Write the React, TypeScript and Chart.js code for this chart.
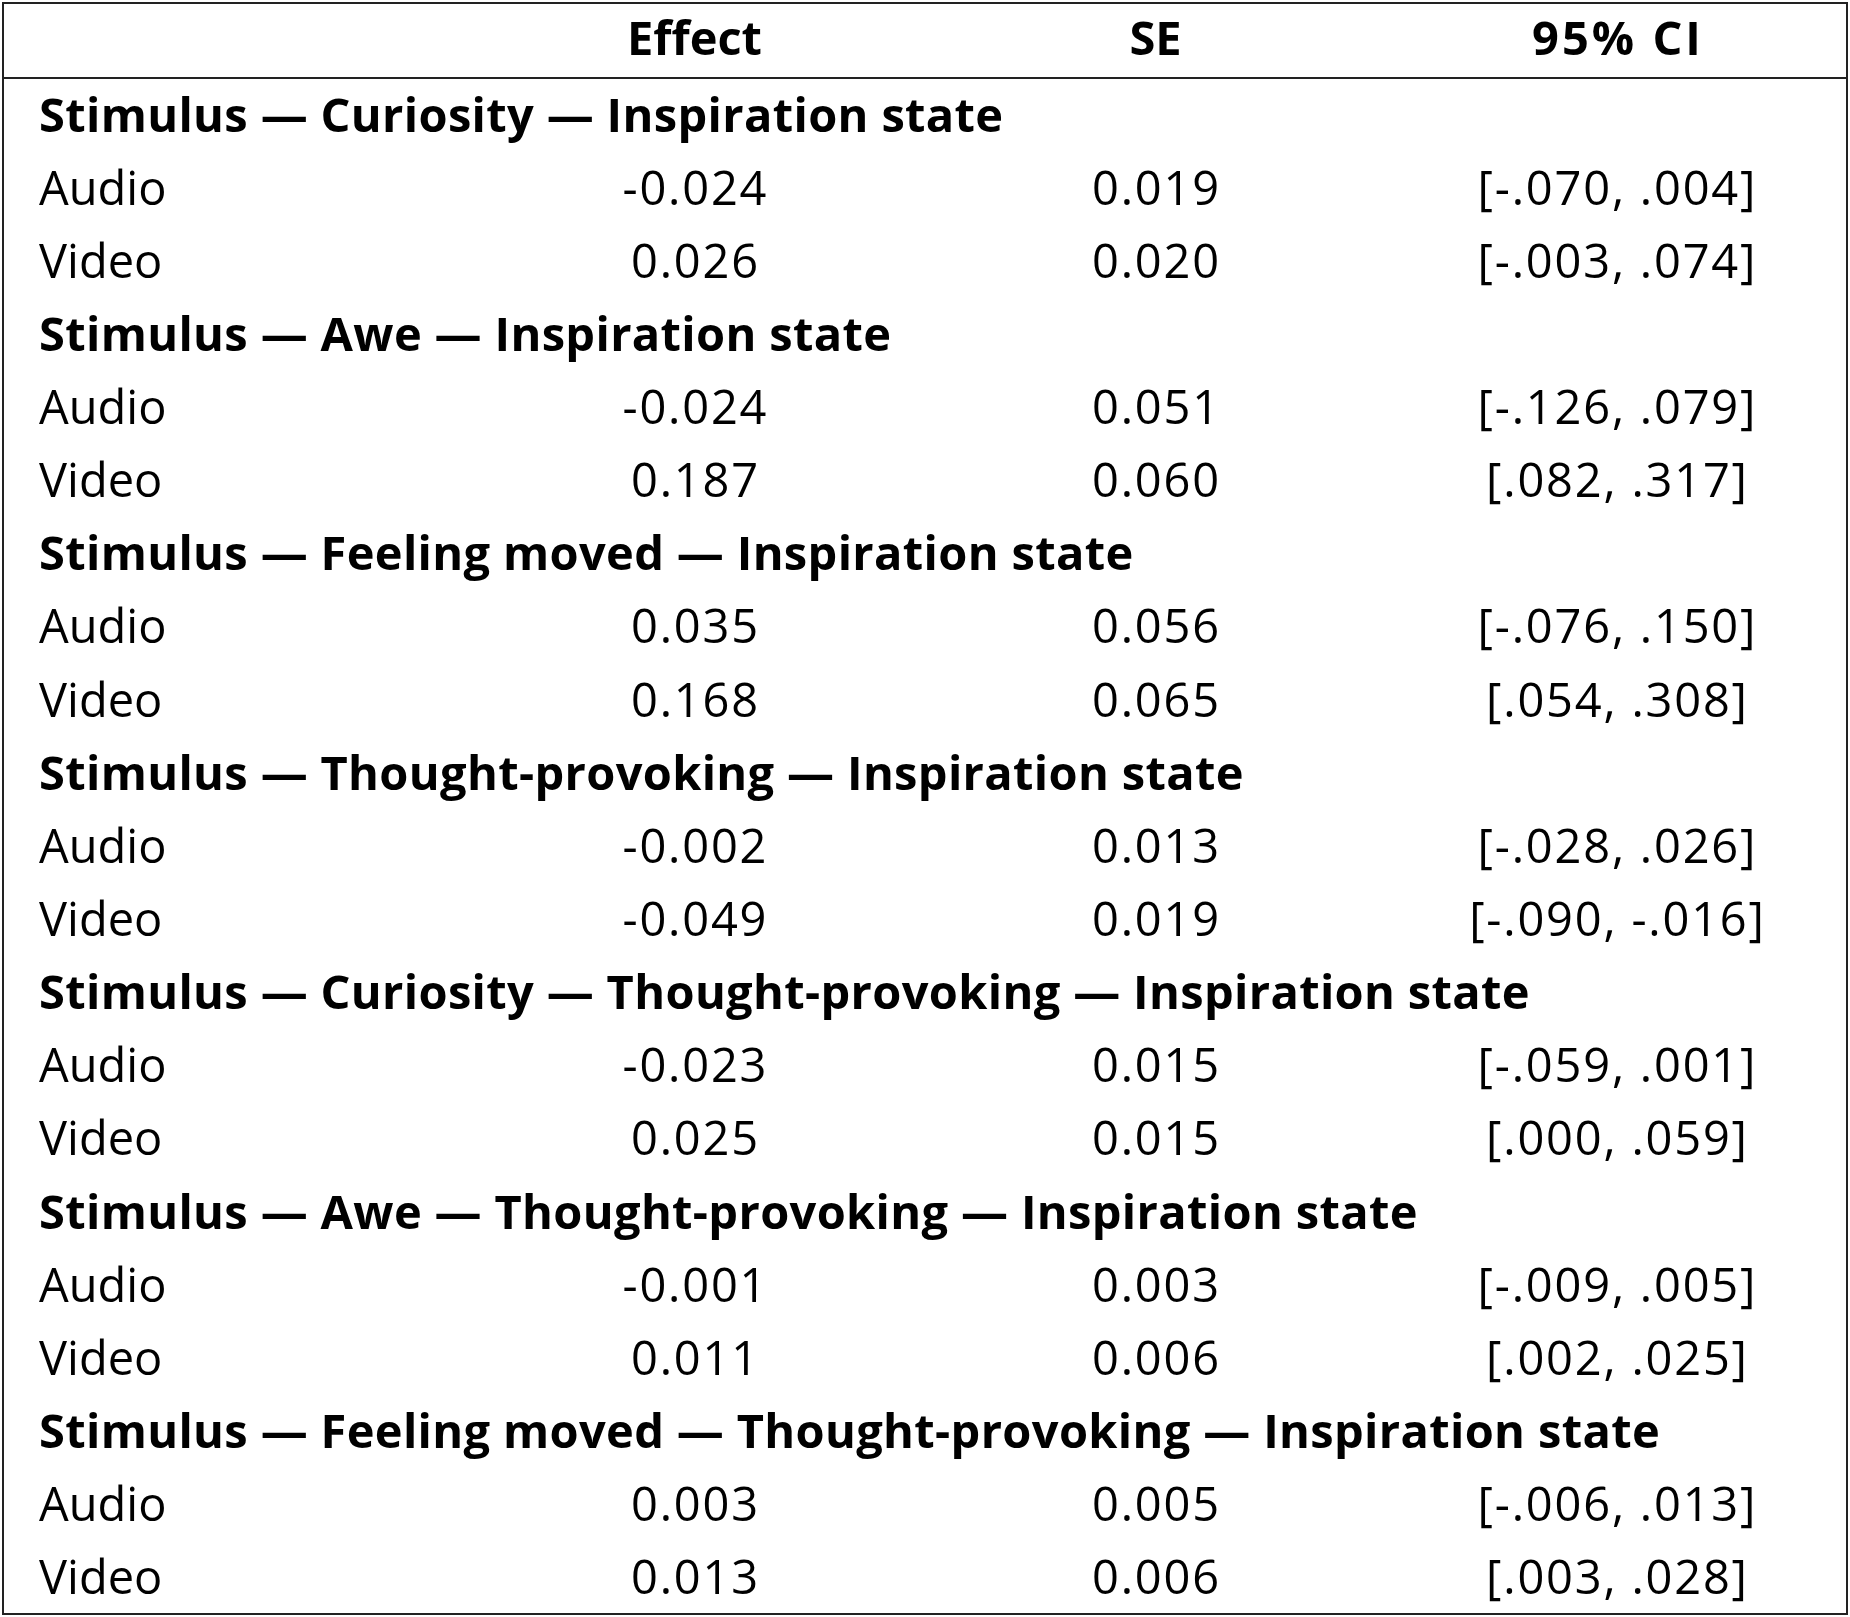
import React, { useEffect, useRef } from "react";
import { Chart, registerables } from "chart.js";

Chart.register(...registerables);

// ---- Data ----
const columnHeaders = ["", "Effect", "SE", "95% CI"];
const pathLabels = [
  "Stimulus — Curiosity — Inspiration state",
  "Stimulus — Awe — Inspiration state",
  "Stimulus — Feeling moved — Inspiration state",
  "Stimulus — Thought-provoking — Inspiration state",
  "Stimulus — Curiosity — Thought-provoking — Inspiration state",
  "Stimulus — Awe — Thought-provoking — Inspiration state",
  "Stimulus — Feeling moved — Thought-provoking — Inspiration state",
];
const conditions = ["Audio", "Video"];
const effects = [-0.024, 0.026, -0.024, 0.187, 0.035, 0.168, -0.002, -0.049, -0.023, 0.025, -0.001, 0.011, 0.003, 0.013];
const standardErrors = [0.019, 0.02, 0.051, 0.06, 0.056, 0.065, 0.013, 0.019, 0.015, 0.015, 0.003, 0.006, 0.005, 0.006];
const ciLower = [-0.07, -0.003, -0.126, 0.082, -0.076, 0.054, -0.028, -0.09, -0.059, 0.0, -0.009, 0.002, -0.006, 0.003];
const ciUpper = [0.004, 0.074, 0.079, 0.317, 0.15, 0.308, 0.026, -0.016, 0.001, 0.059, 0.005, 0.025, 0.013, 0.028];

// ---- Formatting ----
const fmtNum = (v: number) => v.toFixed(3);
const fmtCI = (v: number) => (v < 0 ? "-" : "") + Math.abs(v).toFixed(3).replace(/^0/, "");

type Cell = { text: string; bold: boolean; align: "left" | "center"; x: number; y: number; header: boolean };

function buildCells(headerCenter: number): Cell[] {
  const cells: Cell[] = [];
  columnHeaders.forEach((h, c) => {
    if (h) cells.push({ text: h, bold: true, align: "center", x: c + 0.5, y: headerCenter, header: true });
  });
  let row = 0;
  pathLabels.forEach((label, g) => {
    cells.push({ text: label, bold: true, align: "left", x: 0, y: row + 0.5, header: false });
    row++;
    conditions.forEach((cond, k) => {
      const i = g * conditions.length + k;
      cells.push({ text: cond, bold: false, align: "left", x: 0, y: row + 0.5, header: false });
      cells.push({ text: fmtNum(effects[i]), bold: false, align: "center", x: 1.5, y: row + 0.5, header: false });
      cells.push({ text: fmtNum(standardErrors[i]), bold: false, align: "center", x: 2.5, y: row + 0.5, header: false });
      cells.push({
        text: `[${fmtCI(ciLower[i])}, ${fmtCI(ciUpper[i])}]`,
        bold: false,
        align: "center",
        x: 3.5,
        y: row + 0.5,
        header: false,
      });
      row++;
    });
  });
  return cells;
}

const FONT_FAMILY = '"Open Sans", "Noto Sans", sans-serif';
const FONT_SIZE = 47;
const HEADER_UNITS = 1.026;

export default function App() {
  const canvasRef = useRef<HTMLCanvasElement | null>(null);

  useEffect(() => {
    const canvas = canvasRef.current;
    if (!canvas) return;
    const cells = buildCells(-HEADER_UNITS / 2);
    const totalRows = pathLabels.length * (1 + conditions.length);

    const tablePlugin = {
      id: "tablePlugin",
      afterDatasetsDraw(chart: any) {
        const ctx = chart.ctx as CanvasRenderingContext2D & { letterSpacing?: string };
        const meta = chart.getDatasetMeta(0);
        const area = chart.chartArea;
        const ys = chart.scales.y;
        ctx.save();
        ctx.fillStyle = "#000";
        ctx.textBaseline = "middle";
        cells.forEach((cell, i) => {
          const el = meta.data[i];
          ctx.font = `${cell.bold ? "bold " : ""}${FONT_SIZE}px ${FONT_FAMILY}`;
          ctx.textAlign = cell.align;
          const hasDigits = /\d/.test(cell.text);
          let spacing = 0;
          if (hasDigits) spacing = cell.header ? 3 : 1.8;
          else if (cell.bold && !cell.header) spacing = 0.35;
          ctx.letterSpacing = `${spacing}px`;
          const x = cell.align === "left" ? el.x + 36 : el.x + (cell.align === "center" ? spacing / 2 : 0);
          ctx.fillText(cell.text, x, el.y + (cell.header ? 1 : 3.5));
        });
        ctx.letterSpacing = "0px";
        // borders
        ctx.strokeStyle = "#222";
        ctx.lineWidth = 2;
        ctx.strokeRect(area.left, area.top, area.right - area.left, area.bottom - area.top);
        const hy = Math.round(ys.getPixelForValue(0));
        ctx.beginPath();
        ctx.moveTo(area.left, hy);
        ctx.lineTo(area.right, hy);
        ctx.stroke();
        ctx.restore();
      },
    };

    const chart = new Chart(canvas, {
      type: "scatter",
      data: {
        datasets: [
          {
            data: cells.map((c) => ({ x: c.x, y: c.y })),
            pointRadius: 0,
            pointHoverRadius: 0,
          },
        ],
      },
      options: {
        responsive: false,
        animation: false,
        events: [],
        layout: { padding: { top: 3, left: 3, right: 3, bottom: 3 } },
        scales: {
          x: { type: "linear", min: 0, max: 4, display: false },
          y: { type: "linear", min: -HEADER_UNITS, max: totalRows, reverse: true, display: false },
        },
        plugins: { legend: { display: false }, tooltip: { enabled: false } },
      },
      plugins: [tablePlugin],
    });
    return () => chart.destroy();
  }, []);

  return (
    <canvas
      ref={canvasRef}
      width={1850}
      height={1617}
      style={{ position: "absolute", left: 0, top: 0, width: 1850, height: 1617, background: "#fff" }}
    />
  );
}
